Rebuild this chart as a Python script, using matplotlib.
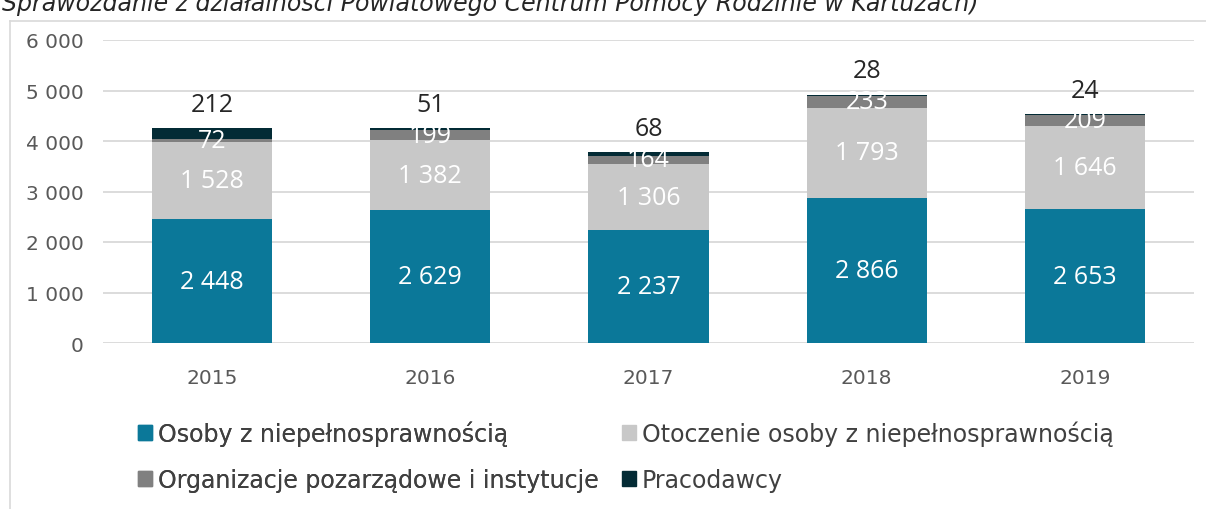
import matplotlib
matplotlib.use('Agg')
import matplotlib.pyplot as plt
from matplotlib.patches import Rectangle
import numpy as np

years = ['2015', '2016', '2017', '2018', '2019']
osoby = [2448, 2629, 2237, 2866, 2653]
otoczenie = [1528, 1382, 1306, 1793, 1646]
organizacje = [72, 199, 164, 233, 209]
pracodawcy = [212, 51, 68, 28, 24]

series_names = ['Osoby z niepełnosprawnością', 'Otoczenie osoby z niepełnosprawnością',
                'Organizacje pozarządowe i instytucje', 'Pracodawcy']
colors = ['#0b7899', '#c8c8c8', '#808080', '#032b35']

title_text = 'Sprawozdanie z działalności Powiatowego Centrum Pomocy Rodzinie w Kartuzach)'

def fmt(v):
    return '{:,}'.format(int(v)).replace(',', ' ')

plt.rcParams['font.family'] = ['DejaVu Sans']

fig = plt.figure(figsize=(12.06, 5.1), dpi=100)
ax = fig.add_axes([103 / 1206, 1 - 344 / 510, (1194 - 103) / 1206, (344 - 41) / 510])

# outer chart frame (only left/top visible)
fig.add_artist(plt.Line2D([10 / 1206, 10 / 1206], [0, 1 - 22 / 510], transform=fig.transFigure,
                          color='#d9d9d9', lw=1.2))
fig.add_artist(plt.Line2D([10 / 1206, 1], [1 - 22 / 510, 1 - 22 / 510], transform=fig.transFigure,
                          color='#d9d9d9', lw=1.2))

fig.text(2 / 1206, 1 - 3 / 510, title_text, style='italic', fontsize=17, color='#262626',
         ha='left', va='center')

x = np.arange(len(years))
w = 0.55
data = [osoby, otoczenie, organizacje, pracodawcy]
bottom = np.zeros(len(years))
for i, (vals, c) in enumerate(zip(data, colors)):
    vals = np.array(vals, dtype=float)
    ax.bar(x, vals, w, bottom=bottom, color=c, label=series_names[i], zorder=3)
    for xi, b, v in zip(x, bottom, vals):
        if i < 3:
            ax.text(xi, b + v / 2, fmt(v), ha='center', va='center', color='white',
                    fontsize=18, zorder=4, family=['Open Sans', 'DejaVu Sans'])
        else:
            ax.annotate(fmt(v), (xi, b + v), xytext=(0, 17), textcoords='offset points',
                        ha='center', va='center', color='#262626', fontsize=18, zorder=4,
                        family=['Open Sans', 'DejaVu Sans'])
    bottom += vals

ax.set_ylim(0, 6000)
ax.set_xlim(-0.5, len(years) - 0.5)
ax.set_yticks(np.arange(0, 6001, 1000))
ax.set_yticklabels([fmt(v) for v in np.arange(0, 6001, 1000)])
ax.set_xticks(x)
ax.set_xticklabels(years)
ax.grid(axis='y', color='#d9d9d9', lw=1.3, zorder=0)
for s in ax.spines.values():
    s.set_visible(False)
ax.tick_params(axis='both', length=0, labelsize=14.5, colors='#595959')
ax.tick_params(axis='y', pad=14)
ax.tick_params(axis='x', pad=18)

handles = [Rectangle((0, 0), 1, 1, color=c) for c in colors]
leg_kw = dict(loc='center left', frameon=False, fontsize=17, labelcolor='#404040',
              handlelength=0.6, handleheight=0.6, handletextpad=0.25, labelspacing=0.95,
              borderaxespad=0, borderpad=0)
leg1 = fig.legend([handles[0], handles[2]], [series_names[0], series_names[2]],
                  bbox_to_anchor=(138 / 1206, 1 - 457 / 510), **leg_kw)
fig.add_artist(leg1)
fig.legend([handles[1], handles[3]], [series_names[1], series_names[3]],
           bbox_to_anchor=(622 / 1206, 1 - 457 / 510), **leg_kw)

fig.savefig('out.png', dpi=100)
